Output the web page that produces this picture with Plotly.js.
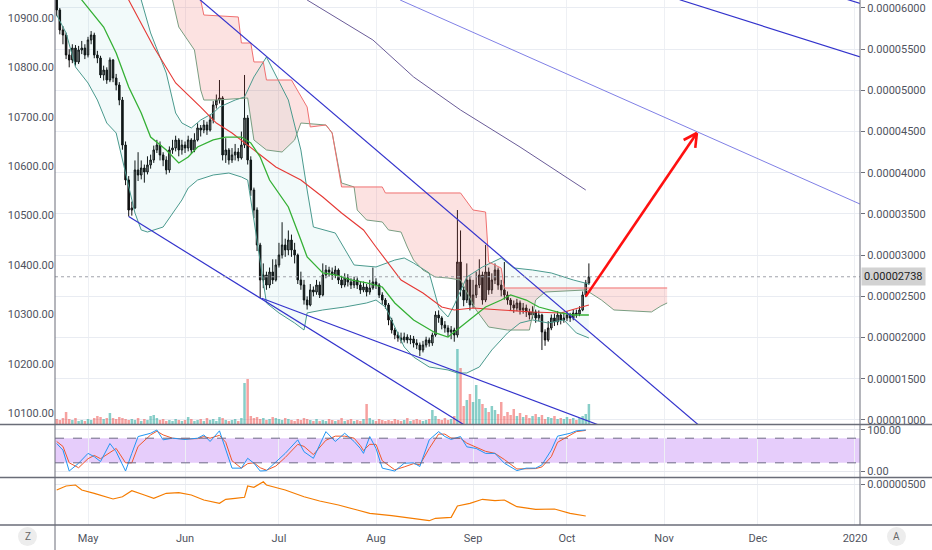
<!DOCTYPE html>
<html><head><meta charset="utf-8">
<script src="https://cdn.plot.ly/plotly-3.0.1.min.js"></script>
<style>html,body{margin:0;padding:0;background:#fff}#chart{width:932px;height:550px}</style>
</head><body><div id="chart"></div>
<script>
// day index 0 = 2019-04-21, daily candles; prices in satoshi (x1e-8)
const firstOpen = 6150;
const closes = [5976,5733,5672,5430,5369,5514,5345,5490,5514,5430,
5612,5672,5430,5393,5187,5247,5126,5369,5150,5065,
4883,4337,3913,3548,3573,4034,3973,4058,4010,4095,
4155,4277,4337,4216,4155,4034,4277,4301,4398,4277,
4337,4301,4398,4277,4398,4544,4519,4580,4519,4641,
4823,4883,4908,4216,4277,4155,4216,4252,4180,4337,
4665,4155,3791,3548,3124,2699,2760,2638,2796,2699,
2881,3002,3124,3063,3184,3063,3002,2699,2638,2456,
2396,2578,2553,2638,2517,2760,2820,2796,2760,2820,
2699,2638,2723,2675,2638,2699,2638,2578,2614,2553,
2602,2675,2638,2517,2456,2396,2213,2092,2031,1995,
1971,2007,1971,1983,1934,1910,1849,1910,1971,1934,
2031,2274,2238,2153,2116,2068,2092,2031,2917,2578,
2456,2699,2396,2517,2638,2760,2456,2796,2578,2699,
2820,2638,2578,2517,2456,2396,2359,2420,2335,2359,
2311,2274,2311,2238,2274,2068,1971,2116,2238,2189,
2274,2213,2238,2274,2238,2298,2286,2335,2517,2663,
2738];
const highs = [6200,6000,5780,5700,5500,5560,5550,5540,5600,5560,
5650,5720,5700,5480,5420,5300,5280,5400,5380,5200,
5100,4920,4380,3960,3650,4150,4250,4150,4100,4200,
4220,4330,4400,4380,4250,4200,4320,4400,4450,4420,
4400,4380,4450,4420,4480,4600,4580,4640,4620,4700,
4870,4950,5126,4930,4420,4300,4300,4350,4300,4500,
5187,4700,4200,3820,3580,3150,2900,2800,2850,2950,
2950,3150,3400,3200,3300,3250,3150,3020,2800,2700,
2500,2650,2620,2700,2680,2900,2880,2860,2850,2870,
2840,2750,2780,2770,2720,2740,2730,2680,2680,2650,
2700,2850,2720,2660,2550,2480,2420,2240,2120,2070,
2060,2060,2040,2030,2020,1980,1940,1960,2010,2000,
2060,2320,2330,2260,2200,2150,2140,2120,3548,3300,
2620,2900,2750,2700,2800,2950,2800,3124,2850,2780,
2900,2850,2700,2917,2560,2480,2450,2470,2450,2420,
2400,2350,2380,2340,2330,2290,2100,2200,2280,2290,
2320,2300,2300,2320,2300,2340,2340,2380,2560,2700,
2900];
const lows = [5900,5680,5560,5380,5280,5330,5300,5320,5440,5380,
5400,5560,5390,5330,5150,5120,5080,5100,5100,5000,
4820,4280,3850,3470,3480,3560,3900,3920,3880,3980,
4050,4120,4240,4150,4080,3980,4000,4230,4260,4200,
4220,4240,4260,4230,4250,4380,4440,4480,4460,4500,
4600,4780,4840,4150,4120,4100,4120,4150,4140,4160,
4300,4100,3720,3450,3050,2480,2600,2580,2600,2650,
2680,2850,2960,2980,3000,2980,2900,2650,2580,2400,
2340,2380,2500,2520,2480,2500,2720,2740,2700,2720,
2650,2600,2610,2620,2590,2600,2590,2530,2550,2500,
2520,2580,2590,2480,2400,2350,2150,2050,1980,1950,
1930,1940,1930,1920,1880,1860,1776,1820,1880,1890,
1900,2010,2180,2100,2060,2010,1980,1950,2000,2500,
2380,2420,2330,2360,2480,2600,2400,2430,2520,2530,
2650,2580,2500,2460,2400,2330,2300,2320,2280,2290,
2250,2220,2230,2180,2200,1849,1900,1950,2090,2140,
2150,2160,2180,2200,2190,2210,2240,2260,2320,2490,
2640];
const volumes = [5,4,6,12,5,4,6,3,4,3,5,4,6,8,7,5,6,11,6,5,7,
6,5,4,5,4,6,3,5,4,8,9,6,4,5,3,4,3,5,4,3,
4,7,5,3,4,5,3,6,4,5,3,7,6,4,3,4,5,3,6,
41,45,
8,6,7,5,6,4,5,7,6,5,4,6,5,4,3,5,4,6,5,
4,3,5,3,4,3,5,4,3,4,6,3,4,5,3,4,3,5,
20,6,
4,3,5,4,3,4,3,5,4,3,4,6,3,4,5,4,3,4,5,
14,8,
5,4,6,4,5,8,
75,56,
18,24,30,22,39,25,20,16,12,18,14,
10,22,8,12,9,15,8,11,7,9,6,8,10,7,9,5,7,6,8,5,
6,5,7,5,6,4,6,8,10,20];

const bbUpperDay = [0,20,27,30,35,38,40,43,46,50,52,57,60,63,67,74,78,80,82,89,95,102,108,111,114,119,122,125,127,131,136,142,146,152,158,165,170];
const bbUpper = [6800,6280,6097,5697,5211,4726,4604,4544,4641,4726,4798,4883,4920,5163,5405,4883,4277,3791,3342,3269,2881,2857,2941,2966,2905,2784,2371,2250,2396,2735,2857,2966,2845,2820,2784,2699,2650];
const bbLowerDay = [0,3,6,10,13,16,19,21,23,25,27,29,34,37,40,42,45,50,55,59,61,63,66,67,71,76,79,80,85,92,99,102,105,108,111,114,119,125,128,131,135,139,144,148,152,157,162,166,170];
const bbLower = [5915,5697,5284,5090,4883,4604,4483,4155,3828,3512,3306,3281,3342,3512,3670,3815,3912,3973,3997,3949,3912,3427,2699,2420,2299,2177,2092,2299,2335,2371,2420,2456,2371,2128,1886,1764,1643,1607,1570,1570,1643,1850,2056,2177,2214,2177,2214,2056,1995];
const basisDay = [4,8,15,19,23,27,30,35,39,42,45,50,54,59,62,65,68,74,78,80,85,89,94,99,104,108,114,121,125,129,133,137,142,145,150,154,161,165,170];
const basis = [6400,6097,5769,5454,5041,4726,4434,4277,4119,4192,4313,4398,4434,4434,4362,4192,3912,3585,3184,2978,2784,2760,2699,2663,2614,2420,2214,2056,2007,2128,2250,2371,2456,2517,2456,2371,2299,2274,2274];
const maRedDay = [18,23,31,38,46,51,56,63,70,78,85,91,98,102,106,110,117,123,127,133,142,152,161,168,170];
const maRed = [6500,6097,5527,5090,4798,4604,4483,4277,4070,3912,3706,3512,3306,3099,2905,2699,2541,2371,2335,2359,2335,2311,2299,2371,2396];
const maSlowDay = [74,80,101,114,129,148,169];
const maSlow = [6280,6097,5612,5163,4762,4313,3791];
const spanADay = [35,37,39,44,46,47,51,61,63,67,72,76,78,86,88,91,95,96,99,104,106,110,112,114,117,121,125,129,134,138,144,151,153,156,169,174,178,190,193,195];
const spanA = [6340,6097,5769,5490,5005,4883,4883,4908,4398,4277,4252,4398,4604,4580,4483,3876,3828,3548,3427,3403,3306,3281,3099,2941,2820,2735,2723,2699,2335,2128,2092,2092,2456,2553,2578,2456,2335,2311,2383,2420];
const spanBDay = [36,46,47,58,59,62,63,66,67,75,80,81,86,88,91,104,105,129,133,137,138,142,143,195];
const spanB = [6340,6097,5915,5891,5575,5575,5345,5345,5126,5126,4798,4556,4580,4483,3828,3828,3755,3755,3548,3524,2917,2844,2602,2602];

const trend1Day = [43,205], trend1Val = [6190,940];
const trend2Day = [23,136], trend2Val = [3470,803];
const trend3Day = [65.5,173], trend3Val = [2477,941];
const trend4Day = [109.7,257], trend4Val = [6097,3614];
const trend5Day = [199,257], trend5Val = [6100,5402];
const trend6Day = [252,257], trend6Val = [6110,6050];
const arrowDay = [169,204.5], arrowVal = [2500,4483];

const stochDay = [0,2,4,7,10,12,14,17,19,22,24,26,30,32,34,37,41,45,47,49,52,54,56,59,61,63,65,67,70,73,77,79,82,86,89,92,95,97,98,100,102,104,108,111,114,116,119,122,124,126,129,131,134,137,140,143,147,150,153,155,158,160,164,166,169];
const stochK = [67,51,0,19,43,35,23,67,47,0,43,84,92,100,76,80,77,80,88,72,98,51,7,7,31,19,0,1,23,43,76,47,31,96,72,92,72,55,43,84,55,7,0,19,20,11,76,96,84,77,84,59,55,43,43,19,1,7,7,15,51,85,92,98,100];
const stochD = [72,60,20,8,30,38,30,45,55,20,20,60,88,97,88,80,78,79,84,80,87,70,25,7,18,20,8,2,12,33,65,60,40,75,85,85,80,62,50,65,65,25,3,10,18,15,55,90,90,80,80,68,58,48,43,28,5,5,6,10,35,70,88,96,99];
const oscDay = [0,3,6,8,12,18,21,24,28,31,35,39,43,47,52,54,57,60,61,63,66,67,73,79,84,90,96,100,107,115,119,121,126,128,132,136,140,143,147,153,159,164,169];
const osc = [440,480,490,440,407,350,373,433,390,357,407,413,390,340,307,347,357,367,480,467,523,490,440,373,330,290,240,207,183,147,133,157,167,280,307,347,333,340,273,247,250,207,180];

const lastPrice = 2738;
const monthTicks = ['2019-05-01','2019-06-01','2019-07-01','2019-08-01','2019-09-01','2019-10-01','2019-11-01','2019-12-01','2020-01-01'];
const monthLabels = ['May','Jun','Jul','Aug','Sep','Oct','Nov','Dec','2020'];

// ---- helpers
const base = Date.UTC(2019,3,21);
const pad = n => String(n).padStart(2,'0');
function dt(d){const t=new Date(base+d*86400000);return t.getUTCFullYear()+'-'+pad(t.getUTCMonth()+1)+'-'+pad(t.getUTCDate())+' '+pad(t.getUTCHours())+':'+pad(t.getUTCMinutes())+':'+pad(t.getUTCSeconds());}
const s = v => v*1e-8;
const X = arr => arr.map(dt);
const S = arr => arr.map(s);

const dayIdx = closes.map((_,i)=>i);
const opens = [firstOpen].concat(closes.slice(0,-1));
const volColors = closes.map((c,i)=> c>=opens[i] ? 'rgba(38,166,154,0.55)' : 'rgba(239,83,80,0.55)');

const xRangeDays = [-0.54, 256.6];
const y2Range = [951.3, 6097];
const FONT = {family:'Roboto, sans-serif', size:11, color:'#50535e'};
const NOHOVER = {hoverinfo:'skip', showlegend:false};

function line(days, vals, color, width, yaxis, extra){
  return Object.assign({type:'scatter', mode:'lines', x:X(days), y:(yaxis==='y2'||yaxis==='y5')?S(vals):vals, yaxis:yaxis, line:{color:color, width:width}}, NOHOVER, extra||{});
}

const traces = [];
traces.push(Object.assign({type:'bar', x:X(dayIdx), y:volumes, yaxis:'y', marker:{color:volColors, line:{width:0}}, width:0.8*86400000}, NOHOVER));
traces.push(Object.assign({type:'scatter', mode:'lines', yaxis:'y2',
  x:X(bbUpperDay).concat(X(bbLowerDay).reverse()),
  y:S(bbUpper).concat(S(bbLower).reverse()),
  fill:'toself', fillcolor:'rgba(0,150,160,0.05)', line:{width:0}}, NOHOVER));
traces.push(Object.assign({type:'scatter', mode:'lines', yaxis:'y2',
  x:X(spanBDay).concat(X(spanADay).reverse()),
  y:S(spanB).concat(S(spanA).reverse()),
  fill:'toself', fillcolor:'rgba(239,83,80,0.17)', line:{width:0}}, NOHOVER));
traces.push(line(bbUpperDay, bbUpper, '#4a9a8e', 1, 'y2'));
traces.push(line(bbLowerDay, bbLower, '#4a9a8e', 1, 'y2'));
traces.push(line(spanADay, spanA, '#7a9e82', 1, 'y2'));
traces.push(line(spanBDay, spanB, '#f07070', 1, 'y2'));
traces.push(line(maSlowDay, maSlow, '#6a5c98', 1, 'y2'));
traces.push(line(maRedDay, maRed, '#e53935', 1.1, 'y2'));
traces.push(line(basisDay, basis, '#35b035', 1.3, 'y2'));
traces.push(Object.assign({type:'candlestick', x:X(dayIdx), open:S(opens), high:S(highs), low:S(lows), close:S(closes), yaxis:'y2',
  increasing:{line:{color:'#111', width:1}, fillcolor:'#8c8c8c'},
  decreasing:{line:{color:'#111', width:1}, fillcolor:'#111'}, whiskerwidth:0}, NOHOVER));
traces.push(line(trend1Day, trend1Val, '#3333cc', 1.2, 'y2'));
traces.push(line(trend2Day, trend2Val, '#3333cc', 1.2, 'y2'));
traces.push(line(trend3Day, trend3Val, '#3333cc', 1.2, 'y2'));
traces.push(line(trend4Day, trend4Val, '#8080e6', 1, 'y2'));
traces.push(line(trend5Day, trend5Val, '#3333cc', 1.2, 'y2'));
traces.push(line(trend6Day, trend6Val, '#3333cc', 1.2, 'y2'));
traces.push(Object.assign({type:'scatter', mode:'markers', x:[dt(0)], y:[10500], yaxis:'y3', marker:{opacity:0}}, NOHOVER));
traces.push(line(stochDay, stochD, '#f0592b', 1, 'y4'));
traces.push(line(stochDay, stochK, '#2196f3', 1, 'y4'));
traces.push(line(oscDay, osc, '#f57c00', 1.2, 'y5'));

// arrow (shaft + head), geometry from axis scales
const pxPerDay = 805/(xRangeDays[1]-xRangeDays[0]);
const pxPerSat = 424/(y2Range[1]-y2Range[0]);
const dxp = (arrowDay[1]-arrowDay[0])*pxPerDay, dyp = (arrowVal[1]-arrowVal[0])*pxPerSat;
const L = Math.hypot(dxp,dyp), ux = dxp/L, uy = dyp/L;
const headLen = 15, ang = 28*Math.PI/180;
function arm(sign){const c=Math.cos(sign*ang), sn=Math.sin(sign*ang);const bx=-(ux*c - uy*sn)*headLen, by=-(ux*sn + uy*c)*headLen;return [arrowDay[1]+bx/pxPerDay, arrowVal[1]+by/pxPerSat];}
const a1 = arm(1), a2 = arm(-1);
const red = {color:'#ff1010', width:2.6};

const px = p => (p-55)/805, py = p => (525-p)/525;
const shapes = [
  {type:'rect', xref:'paper', yref:'y4', x0:0, x1:1, y0:20, y1:80, fillcolor:'#e6cdfb', line:{width:0}, layer:'below'},
  {type:'line', xref:'paper', yref:'y4', x0:0, x1:1, y0:80, y1:80, line:{color:'#6e6a86', width:1, dash:'dash'}},
  {type:'line', xref:'paper', yref:'y4', x0:0, x1:1, y0:20, y1:20, line:{color:'#6e6a86', width:1, dash:'dash'}},
  {type:'line', xref:'paper', yref:'y2', x0:0, x1:1, y0:s(lastPrice), y1:s(lastPrice), line:{color:'#a0a3ab', width:1, dash:'dot'}},
  {type:'line', xref:'x', yref:'y2', x0:dt(arrowDay[0]), y0:s(arrowVal[0]), x1:dt(arrowDay[1]), y1:s(arrowVal[1]), line:red},
  {type:'line', xref:'x', yref:'y2', x0:dt(a1[0]), y0:s(a1[1]), x1:dt(arrowDay[1]), y1:s(arrowVal[1]), line:red},
  {type:'line', xref:'x', yref:'y2', x0:dt(a2[0]), y0:s(a2[1]), x1:dt(arrowDay[1]), y1:s(arrowVal[1]), line:red},
  {type:'line', xref:'paper', yref:'paper', x0:px(0), x1:px(932), y0:py(424.5), y1:py(424.5), line:{color:'#6a6d78', width:1.5}},
  {type:'line', xref:'paper', yref:'paper', x0:px(0), x1:px(932), y0:py(477.5), y1:py(477.5), line:{color:'#6a6d78', width:1.5}},
  {type:'line', xref:'paper', yref:'paper', x0:px(0), x1:px(932), y0:py(525), y1:py(525), line:{color:'#6a6d78', width:1.5}},
  {type:'line', xref:'paper', yref:'paper', x0:0, x1:0, y0:py(550), y1:1, line:{color:'#6a6d78', width:1}},
  {type:'line', xref:'paper', yref:'paper', x0:1, x1:1, y0:0, y1:1, line:{color:'#6a6d78', width:1}},
  {type:'circle', xref:'paper', yref:'paper', x0:px(18), x1:px(37), y0:py(546), y1:py(527), fillcolor:'#ededed', line:{width:0}},
  {type:'circle', xref:'paper', yref:'paper', x0:px(887), x1:px(906), y0:py(546), y1:py(527), fillcolor:'#ededed', line:{width:0}}
];
const annotations = [
  {xref:'paper', yref:'y2', x:1, y:s(lastPrice), xanchor:'left', yanchor:'middle', xshift:1, text:(lastPrice*1e-8).toFixed(8), showarrow:false, bgcolor:'#d2d2d2', borderpad:2, font:{family:'Roboto, sans-serif', size:11, color:'#222'}},
  {xref:'paper', yref:'paper', x:px(27.5), y:py(536.5), xanchor:'center', yanchor:'middle', text:'Z', showarrow:false, font:{family:'Roboto, sans-serif', size:10, color:'#666'}},
  {xref:'paper', yref:'paper', x:px(896.5), y:py(536.5), xanchor:'center', yanchor:'middle', text:'A', showarrow:false, font:{family:'Roboto, sans-serif', size:10, color:'#666'}}
];

const layout = {
  width:932, height:550, margin:{l:55, r:72, t:0, b:25, pad:0},
  paper_bgcolor:'#fff', plot_bgcolor:'#fff', font:FONT, showlegend:false, dragmode:false,
  xaxis:{type:'date', range:[dt(xRangeDays[0]), dt(xRangeDays[1])], anchor:'free', position:0, domain:[0,1],
    tickvals:monthTicks, ticktext:monthLabels, showgrid:true, gridcolor:'#eef0f4', gridwidth:1, zeroline:false, showline:false, ticks:'', ticklabelstandoff:5, tickfont:FONT, rangeslider:{visible:false}, fixedrange:true},
  yaxis:{domain:[0.1924,1], range:[0,424], visible:false, fixedrange:true},
  yaxis2:{overlaying:'y', side:'right', anchor:'x', range:S(y2Range), tick0:1e-5, dtick:5e-6, tickformat:'.8f', showgrid:true, gridcolor:'#e9ecf2', zeroline:false, ticks:'outside', ticklen:4, tickcolor:'#6a6d78', showline:false, tickfont:FONT, fixedrange:true},
  yaxis3:{overlaying:'y', side:'left', anchor:'x', range:[10077.8,10936.45], tick0:10100, dtick:100, tickformat:'.2f', showgrid:false, zeroline:false, ticks:'', showline:false, tickfont:FONT, fixedrange:true},
  yaxis4:{domain:[0.0914,0.1905], anchor:'x', side:'right', range:[-14.6,112.2], tickvals:[0,100], tickformat:'.2f', showgrid:true, gridcolor:'#e6e8ee', zeroline:false, ticks:'outside', ticklen:4, tickcolor:'#6a6d78', tickfont:FONT, fixedrange:true},
  yaxis5:{domain:[0,0.0895], anchor:'x', side:'right', range:[s(90),s(560)], tickvals:[5e-6], tickformat:'.8f', showgrid:true, gridcolor:'#e6e8ee', zeroline:false, ticks:'outside', ticklen:4, tickcolor:'#6a6d78', tickfont:FONT, fixedrange:true},
  shapes:shapes, annotations:annotations
};
Plotly.newPlot('chart', traces, layout, {staticPlot:true, displayModeBar:false});
</script>
</body></html>
